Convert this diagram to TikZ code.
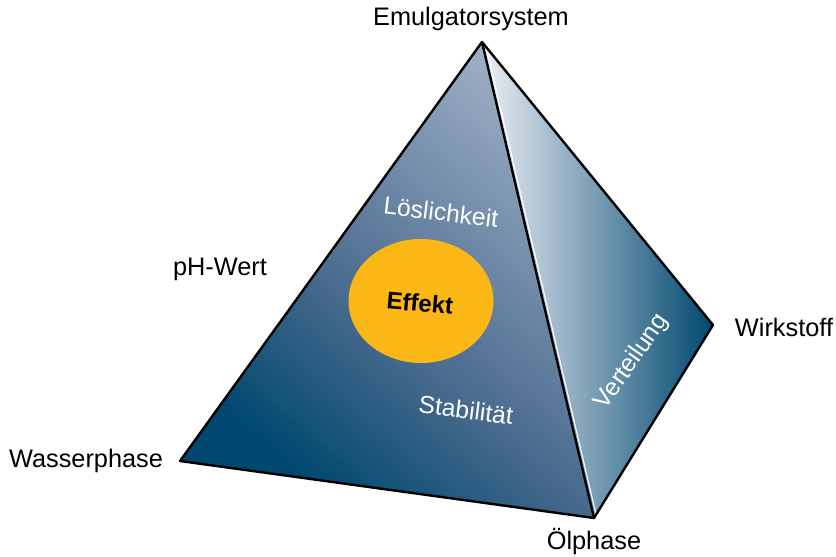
\documentclass[tikz,border=0pt]{standalone}
\usepackage{fontspec}
\setmainfont{Liberation Sans}
\usetikzlibrary{shapes.geometric}
\begin{document}
\begin{tikzpicture}[x=0.75pt,y=-0.75pt,
  lbl/.style={font=\fontsize{19}{22}\selectfont, text=black, inner sep=0pt},
  inlbl/.style={font=\fontsize{18.5}{22}\selectfont, text=white, inner sep=0pt},
  edge/.style={draw=black, line width=1.8pt, line join=round}]
\definecolor{navy}{RGB}{0,72,112}
\definecolor{midblue}{RGB}{72,106,142}
\definecolor{lightblue}{RGB}{160,177,199}
\definecolor{paleblue}{RGB}{236,239,245}
\definecolor{orangeY}{RGB}{251,183,22}
\useasboundingbox (0,0) rectangle (836,557);
\coordinate (A) at (482,42);
\coordinate (W) at (180,461);
\coordinate (O) at (594,518);
\coordinate (R) at (713,325);
% right face
\path[left color=paleblue, right color=navy] (A) -- (R) -- (O) -- cycle;
% front face: stepped linear gradient
\begin{scope}
\clip (A) -- (W) -- (O) -- cycle;
\fill[navy] (A) -- (W) -- (O) -- cycle;
\begin{scope}[shift={(330,450)}, rotate=50]
\foreach \i in {0,...,99}{
  \pgfmathsetmacro{\ta}{-40+\i*5}
  \pgfmathsetmacro{\tb}{\ta+5.8+(\i==99)*600}
  \pgfmathtruncatemacro{\pa}{min(100,max(0,(\ta+40)/160*100))}
  \pgfmathtruncatemacro{\pb}{min(100,max(0,(\ta-120)/290*100))}
  \ifnum\pb>0
    \colorlet{stripc}{lightblue!\pb!midblue}
  \else
    \colorlet{stripc}{midblue!\pa!navy}
  \fi
  \fill[stripc] (\ta,-900) -- (\tb,-900) -- (\tb,900) -- (\ta,900) -- cycle;
}
\end{scope}
\end{scope}
% white highlight along front-right edge
\draw[white, line width=0.8pt] ([xshift=2.2pt]A) -- ([xshift=2.2pt]O);
\draw[edge] (A) -- (W) -- (O) -- (R) -- cycle;
\draw[edge] (A) -- (O);
% ellipse
\node[ellipse, fill=orangeY, minimum width=108.75pt, minimum height=93pt, inner sep=0pt] (eff) at (421,301) {};
\node[font=\bfseries\fontsize{18}{21}\selectfont, rotate=-5] (efftext) at (420,303) {Effekt};
% inner labels
\node[inlbl, rotate=-7] (los) at (441,212) {Löslichkeit};
\node[inlbl, rotate=-7] (stab) at (466,410) {Stabilität};
\node[inlbl, rotate=55] (vert) at (632,362) {Verteilung};
% outer labels
\node[lbl] (emu) at (471,19) {Emulgatorsystem};
\node[lbl] (ph) at (220,269) {pH-Wert};
\node[lbl] (was) at (86,461) {Wasserphase};
\node[lbl] (ol) at (594,542) {Ölphase};
\node[lbl] (wirk) at (784,327) {Wirkstoff};
\end{tikzpicture}
\end{document}
